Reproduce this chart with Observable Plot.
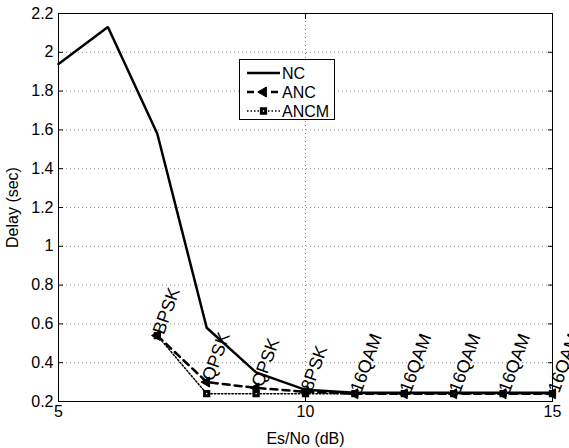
<!DOCTYPE html>
<html>
<head>
<meta charset="utf-8">
<script src="https://cdn.jsdelivr.net/npm/d3@7"></script>
<script src="https://cdn.jsdelivr.net/npm/@observablehq/plot@0.6"></script>
<style>
  body { margin: 0; background: #fff; }
  #chart svg { display: block; }
</style>
</head>
<body>
<div id="chart"></div>
<script>
// Es/No points (dB) and average delay (sec) for each scheme
const snr = [5, 6, 7, 8, 9, 10, 11, 12, 13, 14, 15];
const delayNC = [1.94, 2.13, 1.58, 0.58, 0.35, 0.26, 0.245, 0.245, 0.245, 0.245, 0.245];

const snrAdaptive = [7, 8, 9, 10, 11, 12, 13, 14, 15];
const delayANC = [0.54, 0.30, 0.27, 0.25, 0.24, 0.24, 0.24, 0.24, 0.24];
const delayANCM = [0.54, 0.24, 0.24, 0.24, 0.24, 0.24, 0.24, 0.24, 0.24];

// modulation chosen at each Es/No point
const modulation = ["BPSK", "QPSK", "QPSK", "8PSK", "16QAM", "16QAM", "16QAM", "16QAM", "16QAM"];

const xTicks = [5, 10, 15];
const yTicks = [0.2, 0.4, 0.6, 0.8, 1, 1.2, 1.4, 1.6, 1.8, 2, 2.2];

const seriesNames = ["NC", "ANC", "ANCM"];

const nc = snr.map((x, i) => ({x, y: delayNC[i]}));
const anc = snrAdaptive.map((x, i) => ({x, y: delayANC[i]}));
const ancm = snrAdaptive.map((x, i) => ({x, y: delayANCM[i]}));
const labels = snrAdaptive.map((x, i) => ({x, y: delayANC[i], text: modulation[i]}));

// left-pointing filled triangle, centred on its centroid
const triangleLeft = {
  draw(context, size) {
    const a = Math.sqrt(size * 4 / Math.sqrt(3));
    const h = a * Math.sqrt(3) / 2;
    context.moveTo(-2 * h / 3, 0);
    context.lineTo(h / 3, -a / 2);
    context.lineTo(h / 3, a / 2);
    context.closePath();
  }
};

const font = "'Liberation Sans', Arial, Helvetica, sans-serif";
const gridStyle = {stroke: "#8c8c8c", strokeOpacity: 1, strokeWidth: 1, strokeDasharray: "1,3"};
const squareR = 2.4, squareStroke = 3, triR = 3.7;

const chart = Plot.plot({
  width: 569,
  height: 448,
  marginLeft: 58,
  marginRight: 17,
  marginTop: 13,
  marginBottom: 47,
  style: {fontFamily: font, fontSize: "16px", color: "black", background: "white", overflow: "visible"},
  x: {domain: [5, 15]},
  y: {domain: [0.2, 2.2]},
  marks: [
    Plot.gridX(xTicks, gridStyle),
    Plot.gridY(yTicks, gridStyle),
    Plot.axisX(xTicks, {anchor: "bottom", tickSize: 0, tickPadding: 4, tickFormat: d => String(d),
      label: "Es/No (dB)", labelAnchor: "center", labelArrow: "none", labelOffset: 42}),
    Plot.axisY(yTicks, {anchor: "left", tickSize: 0, tickPadding: 5, tickFormat: d => String(d),
      label: "Delay (sec)", labelAnchor: "center", labelArrow: "none", labelOffset: 52}),
    // inward tick marks on all four sides
    Plot.axisX(xTicks, {anchor: "bottom", tickSize: -5, text: null, label: null}),
    Plot.axisX(xTicks, {anchor: "top", tickSize: -5, text: null, label: null}),
    Plot.axisY(yTicks, {anchor: "left", tickSize: -5, text: null, label: null}),
    Plot.axisY(yTicks, {anchor: "right", tickSize: -5, text: null, label: null}),
    Plot.frame({stroke: "black", strokeWidth: 1}),
    Plot.line(nc, {x: "x", y: "y", stroke: "black", strokeWidth: 2.5, strokeLinejoin: "miter"}),
    Plot.line(anc, {x: "x", y: "y", stroke: "black", strokeWidth: 2.5, strokeDasharray: "7,5"}),
    Plot.line(ancm, {x: "x", y: "y", stroke: "black", strokeWidth: 1.5, strokeDasharray: "1.5,2"}),
    Plot.dot(ancm, {x: "x", y: "y", symbol: "square", r: squareR, fill: "white", stroke: "black", strokeWidth: squareStroke}),
    Plot.dot(anc, {x: "x", y: "y", symbol: triangleLeft, r: triR, fill: "black", stroke: "black", strokeWidth: 1}),
    Plot.text(labels, {x: "x", y: "y", text: "text", rotate: -70, textAnchor: "start", lineAnchor: "middle",
      fontSize: 18, dx: 1, dy: -2, fill: "black"})
  ]
});

document.getElementById("chart").appendChild(chart);

// legend box drawn inside the plotting area
const svg = d3.select(chart);
const lg = svg.append("g").attr("font-family", font).attr("font-size", 16).attr("text-anchor", "start");
lg.append("rect").attr("x", 239.5).attr("y", 59.5).attr("width", 95).attr("height", 60)
  .attr("fill", "white").attr("stroke", "black").attr("stroke-width", 1);
const rows = [73, 92, 111];
const lineStyles = [
  {w: 2.5, dash: null},
  {w: 2.5, dash: "7,5"},
  {w: 1.5, dash: "1.5,2"}
];
seriesNames.forEach((name, i) => {
  const y = rows[i];
  lg.append("line").attr("x1", 247).attr("x2", 280).attr("y1", y).attr("y2", y)
    .attr("stroke", "black").attr("stroke-width", lineStyles[i].w)
    .attr("stroke-dasharray", lineStyles[i].dash);
  if (i === 1) {
    lg.append("path").attr("d", d3.symbol(triangleLeft, Math.PI * triR * triR)())
      .attr("transform", `translate(263.5,${y})`).attr("fill", "black").attr("stroke", "black");
  }
  if (i === 2) {
    lg.append("path").attr("d", d3.symbol(d3.symbolSquare, Math.PI * squareR * squareR)())
      .attr("transform", `translate(263.5,${y})`).attr("fill", "white").attr("stroke", "black").attr("stroke-width", squareStroke);
  }
  lg.append("text").attr("x", 282).attr("y", y).attr("dy", "0.35em").attr("fill", "black").text(name);
});
</script>
</body>
</html>
